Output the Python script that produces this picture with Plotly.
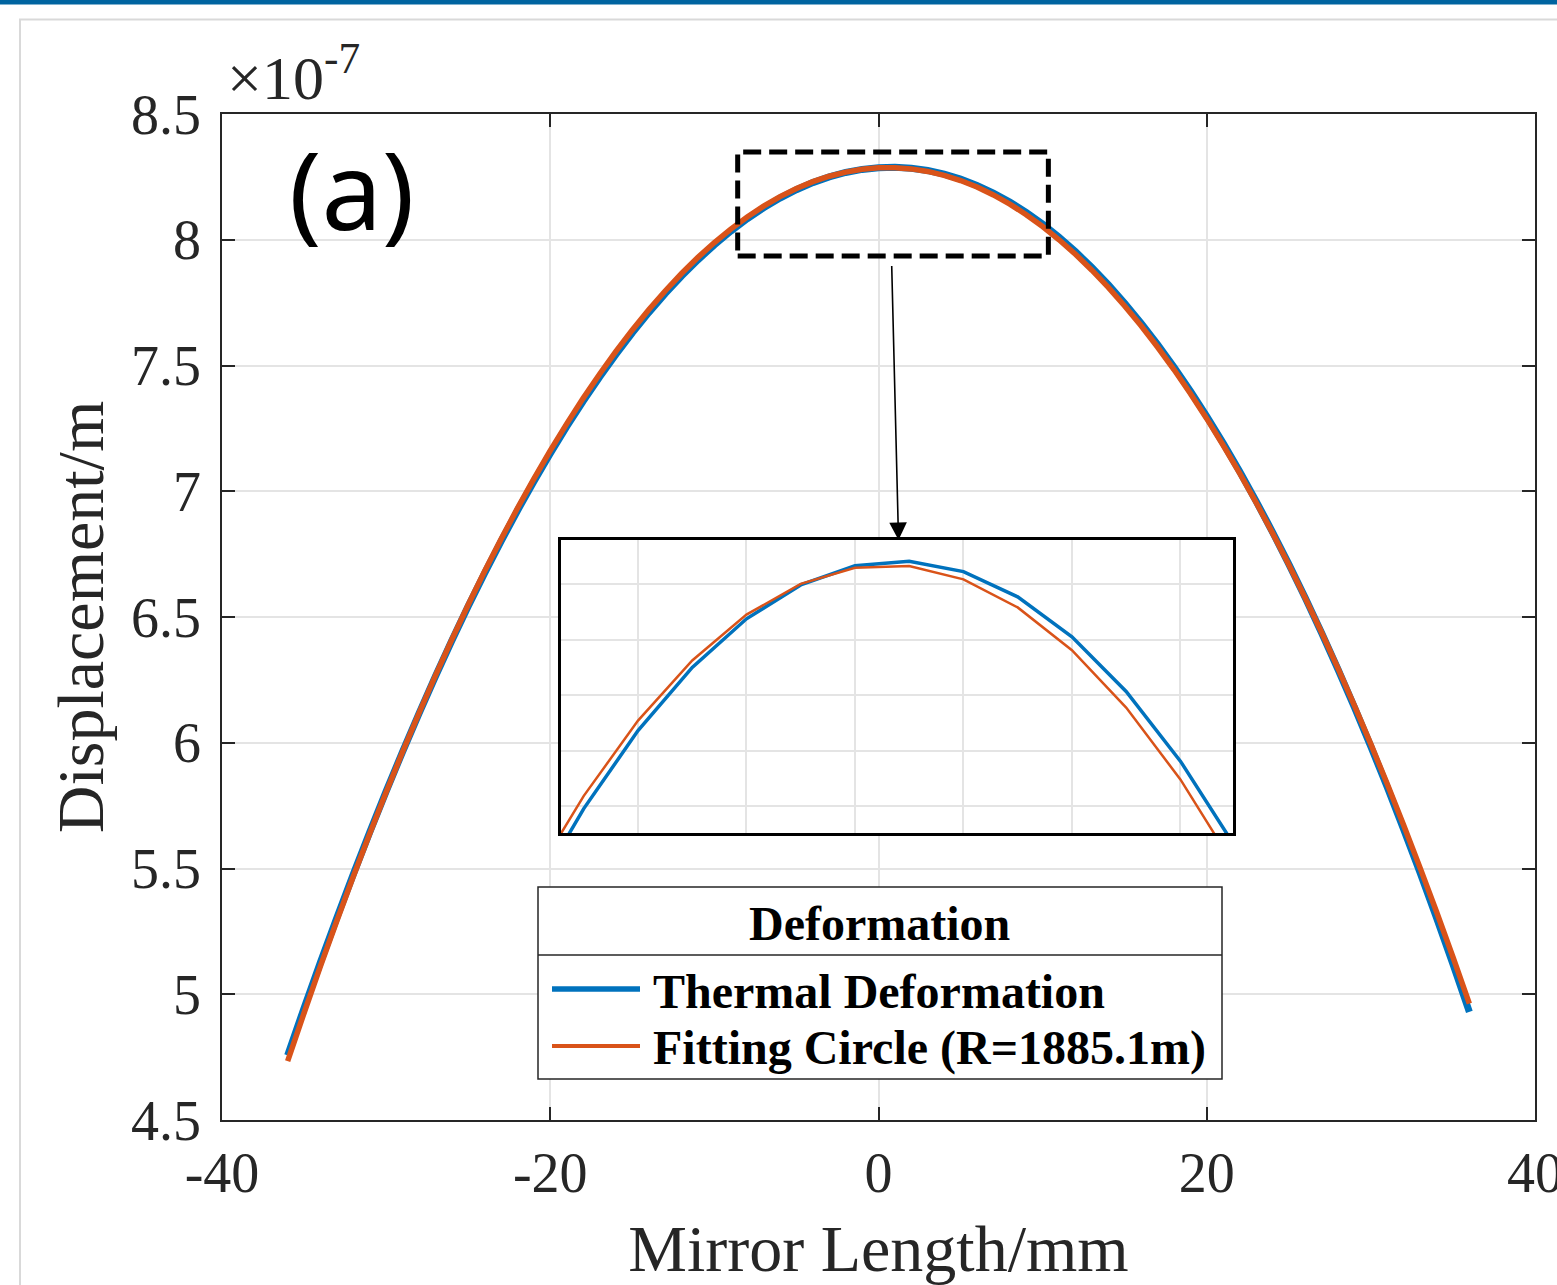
import plotly.graph_objects as go

# ---------------- data (values in units of 1e-7 m) ----------------
mirror_length_mm = [-36, -35, -34, -33, -32, -31, -30, -29, -28, -27, -26, -25,
                    -24, -23, -22, -21, -20, -19, -18, -17, -16, -15, -14, -13,
                    -12, -11, -10, -9, -8, -7, -6, -5, -4, -3, -2, -1, 0,
                    1, 2, 3, 4, 5, 6, 7, 8, 9, 10, 11, 12, 13, 14, 15, 16, 17,
                    18, 19, 20, 21, 22, 23, 24, 25, 26, 27, 28, 29, 30, 31, 32,
                    33, 34, 35, 36]

thermal_deformation = [4.7573, 4.9448, 5.1272, 5.3046, 5.4770, 5.6444, 5.8067, 5.9639,
                       6.1161, 6.2633, 6.4053, 6.5423, 6.6741, 6.8008, 6.9225, 7.0390,
                       7.1503, 7.2566, 7.3576, 7.4536, 7.5443, 7.6299, 7.7103, 7.7855,
                       7.8555, 7.9203, 7.9798, 8.0342, 8.0833, 8.1271, 8.1657, 8.1991,
                       8.2272, 8.2500, 8.2675, 8.2797, 8.2866, 8.2882, 8.2845, 8.2754,
                       8.2610, 8.2413, 8.2162, 8.1857, 8.1499, 8.1086, 8.0620, 8.0100,
                       7.9526, 7.8898, 7.8215, 7.7478, 7.6687, 7.5841, 7.4941, 7.3986,
                       7.2976, 7.1911, 7.0792, 6.9617, 6.8387, 6.7102, 6.5762, 6.4366,
                       6.2915, 6.1409, 5.9847, 5.8229, 5.6555, 5.4826, 5.3040, 5.1199,
                       4.9301]

fitting_circle = [4.7338, 4.9254, 5.1115, 5.2924, 5.4680, 5.6383, 5.8033, 5.9630,
                  6.1173, 6.2664, 6.4102, 6.5486, 6.6818, 6.8096, 6.9321, 7.0494,
                  7.1613, 7.2679, 7.3693, 7.4653, 7.5560, 7.6414, 7.7215, 7.7963,
                  7.8658, 7.9300, 7.9889, 8.0425, 8.0907, 8.1337, 8.1714, 8.2037,
                  8.2308, 8.2525, 8.2690, 8.2801, 8.2859, 8.2865, 8.2817, 8.2716,
                  8.2562, 8.2355, 8.2096, 8.1783, 8.1417, 8.0997, 8.0525, 8.0000,
                  7.9422, 7.8791, 7.8106, 7.7369, 7.6579, 7.5735, 7.4839, 7.3889,
                  7.2886, 7.1831, 7.0722, 6.9560, 6.8345, 6.7078, 6.5757, 6.4383,
                  6.2956, 6.1476, 5.9943, 5.8357, 5.6717, 5.5025, 5.3280, 5.1481,
                  4.9630]

series_names = ["Thermal Deformation", "Fitting Circle (R=1885.1m)"]
legend_title = "Deformation"

x_tick_vals = [-40, -20, 0, 20, 40]
x_tick_text = ["-40", "-20", "0", "20", "40"]
y_tick_vals = [4.5, 5, 5.5, 6, 6.5, 7, 7.5, 8, 8.5]
y_tick_text = ["4.5", "5", "5.5", "6", "6.5", "7", "7.5", "8", "8.5"]

x_range = [-40, 40]
y_range = [4.5, 8.5]
zoom_box_x = [-8.58, 10.35]
zoom_box_y = [7.935, 8.349]
inset_x_range = [-5.42, 6.97]
inset_y_range = [8.1903, 8.2959]

# ---------------- layout geometry ----------------
W, H = 1557, 1285
ML, MR, MT, MB = 222, 22, 114, 165
PW, PH = W - ML - MR, H - MT - MB


def px(xp):
    return (xp - ML) / PW


def py(yp):
    return (H - MB - yp) / PH


BLUE = "#0072BD"
ORANGE = "#D95319"
AX = "#262626"
GRID = "#e4e4e4"
SERIF = "Liberation Serif, Times New Roman, serif"

fig = go.Figure()

# main curves
fig.add_trace(go.Scatter(x=mirror_length_mm, y=thermal_deformation, mode="lines",
                         name=series_names[0],
                         line=dict(color=BLUE, width=7, simplify=False),
                         showlegend=False, xaxis="x", yaxis="y"))
fig.add_trace(go.Scatter(x=mirror_length_mm, y=fitting_circle, mode="lines",
                         name=series_names[1],
                         line=dict(color=ORANGE, width=5.5, simplify=False),
                         showlegend=False, xaxis="x", yaxis="y"))
# inset curves (same data, zoomed)
fig.add_trace(go.Scatter(x=mirror_length_mm, y=thermal_deformation, mode="lines",
                         name=series_names[0],
                         line=dict(color=BLUE, width=3.5, simplify=False),
                         showlegend=False, xaxis="x2", yaxis="y2"))
fig.add_trace(go.Scatter(x=mirror_length_mm, y=fitting_circle, mode="lines",
                         name=series_names[1],
                         line=dict(color=ORANGE, width=2.5, simplify=False),
                         showlegend=False, xaxis="x2", yaxis="y2"))

axis_common = dict(showgrid=True, gridcolor=GRID, gridwidth=1.5, zeroline=False,
                   ticks="inside", ticklen=13, tickwidth=1.5, tickcolor=AX,
                   showline=True, linecolor=AX, linewidth=1.5, mirror="ticks",
                   automargin=False, ticklabeloverflow="allow",
                   tickfont=dict(family=SERIF, size=56, color=AX))

fig.update_layout(
    width=W, height=H,
    margin=dict(l=ML, r=MR, t=MT, b=MB, pad=0),
    paper_bgcolor="white", plot_bgcolor="white",
    showlegend=False,
    xaxis=dict(range=x_range, tickvals=x_tick_vals, ticktext=x_tick_text,
               domain=[0, 1], anchor="y", ticklabelstandoff=3,
               title=dict(text="Mirror Length/mm", standoff=37,
                          font=dict(family=SERIF, size=66, color=AX)),
               **axis_common),
    yaxis=dict(range=y_range, tickvals=y_tick_vals, ticktext=y_tick_text,
               domain=[0, 1], anchor="x", ticklabelstandoff=8,
               title=dict(text="Displacement/m", standoff=6,
                          font=dict(family=SERIF, size=66, color=AX)),
               **axis_common),
    xaxis2=dict(range=inset_x_range, dtick=2, tick0=0, domain=[px(561), px(1233)],
                anchor="y2", showticklabels=False, ticks="", showgrid=True,
                gridcolor=GRID, gridwidth=1.5, zeroline=False, showline=True,
                linecolor="black", linewidth=2.5, mirror=True),
    yaxis2=dict(range=inset_y_range, dtick=0.02, tick0=0, domain=[py(833), py(540)],
                anchor="x2", showticklabels=False, ticks="", showgrid=True,
                gridcolor=GRID, gridwidth=1.5, zeroline=False, showline=True,
                linecolor="black", linewidth=2.5, mirror=True),
)

shapes = []
# window chrome: blue top bar and light frame
shapes.append(dict(type="rect", xref="paper", yref="paper", layer="below",
                   x0=px(-5), x1=px(W + 5), y0=py(0), y1=py(4.5),
                   fillcolor="#0064A0", line=dict(width=0)))
shapes.append(dict(type="rect", xref="paper", yref="paper", layer="below",
                   x0=px(20), x1=px(W + 40), y0=py(H + 40), y1=py(19.5),
                   fillcolor="rgba(0,0,0,0)", line=dict(color="#d9d9d9", width=2)))
# white background of inset (covers main grid)
shapes.append(dict(type="rect", xref="x2", yref="y2", layer="below",
                   x0=inset_x_range[0], x1=inset_x_range[1],
                   y0=inset_y_range[0], y1=inset_y_range[1],
                   fillcolor="white", line=dict(width=0)))
# dashed zoom box
shapes.append(dict(type="rect", xref="x", yref="y", layer="above",
                   x0=zoom_box_x[0], x1=zoom_box_x[1], y0=zoom_box_y[0], y1=zoom_box_y[1],
                   fillcolor="rgba(0,0,0,0)",
                   line=dict(color="black", width=5, dash="18px,8px")))
# legend box
shapes.append(dict(type="rect", xref="paper", yref="paper", layer="above",
                   x0=px(538), x1=px(1222), y0=py(1079), y1=py(887),
                   fillcolor="white", line=dict(color=AX, width=1.5)))
shapes.append(dict(type="line", xref="paper", yref="paper", layer="above",
                   x0=px(538), x1=px(1222), y0=py(955), y1=py(955),
                   line=dict(color=AX, width=1.5)))
shapes.append(dict(type="line", xref="paper", yref="paper", layer="above",
                   x0=px(552), x1=px(640), y0=py(989), y1=py(989),
                   line=dict(color=BLUE, width=5.5)))
shapes.append(dict(type="line", xref="paper", yref="paper", layer="above",
                   x0=px(552), x1=px(640), y0=py(1046), y1=py(1046),
                   line=dict(color=ORANGE, width=4)))
fig.update_layout(shapes=shapes)

annotations = []
# exponent label
annotations.append(dict(xref="paper", yref="paper", x=px(225), y=py(114),
                        xanchor="left", yanchor="bottom", showarrow=False,
                        text="×10<sup>-7</sup>",
                        font=dict(family=SERIF, size=62, color=AX)))
# panel label
annotations.append(dict(xref="paper", yref="paper", x=px(351), y=py(188),
                        xanchor="center", yanchor="middle", showarrow=False,
                        text="(a)", font=dict(family="Noto Sans", size=108, color="black")))
# arrow from zoom box to inset
annotations.append(dict(xref="x", yref="y", axref="x", ayref="y",
                        x=1.22, y=6.806, ax=0.79, ay=zoom_box_y[0],
                        text=" ", showarrow=True, arrowhead=2, arrowsize=2.2,
                        arrowwidth=1.6, arrowcolor="black", standoff=0))
# legend texts
annotations.append(dict(xref="paper", yref="paper", x=px(880), y=py(923),
                        xanchor="center", yanchor="middle", showarrow=False,
                        text="<b>" + legend_title + "</b>",
                        font=dict(family=SERIF, size=48, color="black")))
annotations.append(dict(xref="paper", yref="paper", x=px(651), y=py(991),
                        xanchor="left", yanchor="middle", showarrow=False,
                        text="<b>" + series_names[0] + "</b>",
                        font=dict(family=SERIF, size=48, color="black")))
annotations.append(dict(xref="paper", yref="paper", x=px(651), y=py(1048),
                        xanchor="left", yanchor="middle", showarrow=False,
                        text="<b>" + series_names[1] + "</b>",
                        font=dict(family=SERIF, size=48, color="black")))
fig.update_layout(annotations=annotations)

fig.write_html("out.html")
